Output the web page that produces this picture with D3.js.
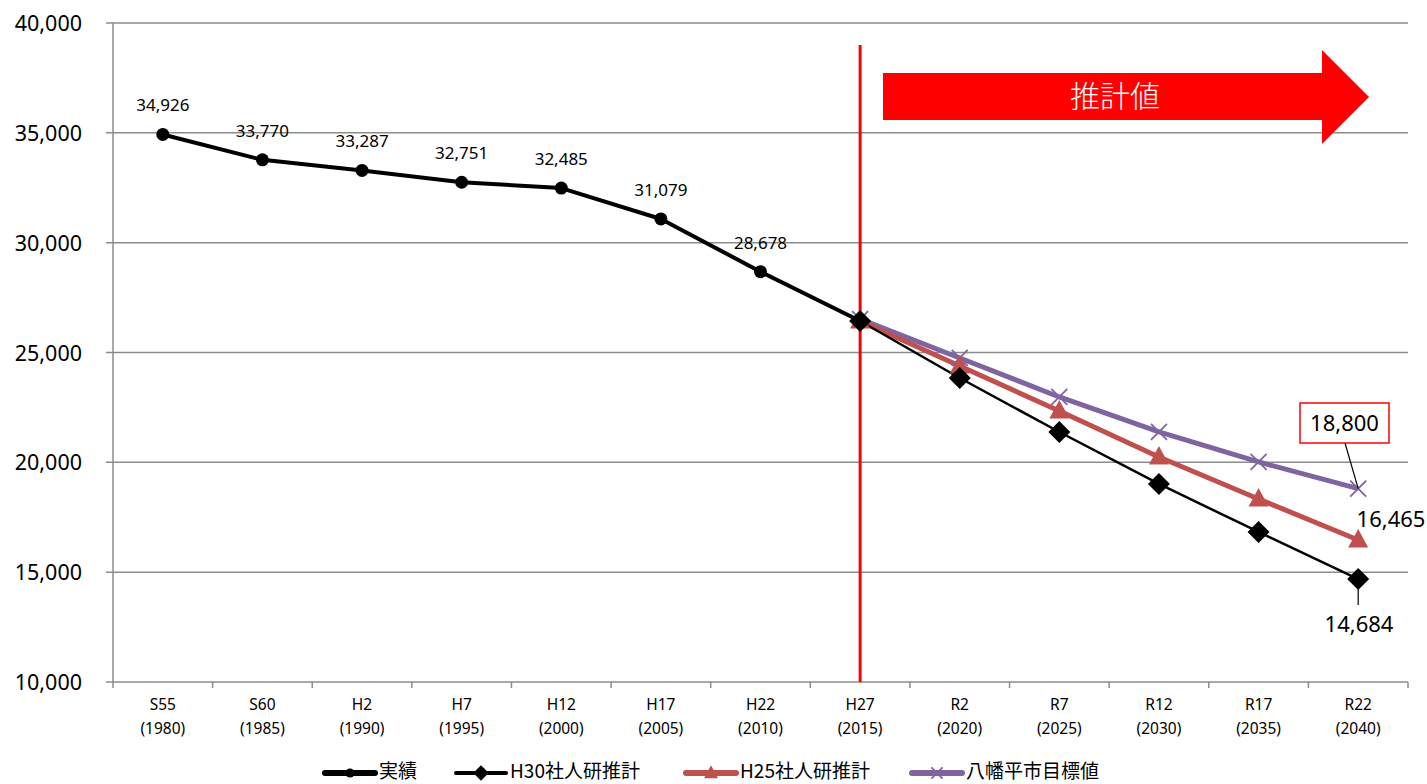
<!DOCTYPE html>
<html><head><meta charset="utf-8">
<script src="https://cdn.jsdelivr.net/npm/d3@7"></script>
<style>body{margin:0;background:#fff}svg{display:block}text{font-family:"Noto Sans","Noto Sans CJK JP",sans-serif}</style>
</head><body><svg id="c" width="1427" height="784"></svg>
<script>
const categories = ["S55","S60","H2","H7","H12","H17","H22","H27","R2","R7","R12","R17","R22"];
const years = ["(1980)","(1985)","(1990)","(1995)","(2000)","(2005)","(2010)","(2015)","(2020)","(2025)","(2030)","(2035)","(2040)"];
const actual = [34926,33770,33287,32751,32485,31079,28678,26434,null,null,null,null,null];
const h30 = [null,null,null,null,null,null,null,26434,23840,21382,19015,16830,14684];
const h25 = [null,null,null,null,null,null,null,26434,24386,22338,20244,18332,16465];
const target = [null,null,null,null,null,null,null,26520,24751,22976,21382,20017,18800];
const yTicks = [10000,15000,20000,25000,30000,35000,40000];
const seriesNames = ["実績","H30社人研推計","H25社人研推計","八幡平市目標値"];

const svg = d3.select("#c");
const L=113,R=1408,T=23,B=682;
const x = d3.scaleBand().domain(categories).range([L,R]);
const xc = c => x(c)+x.bandwidth()/2;
const y = d3.scaleLinear().domain([10000,40000]).range([B,T]);
const fmt = d3.format(",");

svg.append("g").selectAll("line").data(yTicks).join("line")
  .attr("x1",L-7).attr("x2",R).attr("y1",d=>y(d)).attr("y2",d=>y(d))
  .attr("stroke","#8c8c8c").attr("stroke-width",1.5);
svg.append("line").attr("x1",L).attr("x2",L).attr("y1",T).attr("y2",B).attr("stroke","#8c8c8c").attr("stroke-width",1.5);
svg.append("g").selectAll("text").data(yTicks).join("text")
  .attr("x",82).attr("y",d=>y(d)+8).attr("text-anchor","end")
  .attr("font-size",21.5).attr("fill","#000").text(d=>fmt(d));
const edges = categories.map(c=>x(c)).concat([R]);
svg.append("g").selectAll("line").data(edges).join("line")
  .attr("x1",d=>d).attr("x2",d=>d).attr("y1",B).attr("y2",B+6)
  .attr("stroke","#8c8c8c").attr("stroke-width",1.5);
const xl = svg.append("g");
xl.selectAll("text.a").data(categories).join("text").attr("class","a")
  .attr("x",d=>xc(d)).attr("y",710).attr("text-anchor","middle").attr("font-size",15.5).text(d=>d);
xl.selectAll("text.b").data(years).join("text").attr("class","b")
  .attr("x",(d,i)=>xc(categories[i])).attr("y",734).attr("text-anchor","middle").attr("font-size",15.5).text(d=>d);

svg.append("line").attr("x1",xc("H27")).attr("x2",xc("H27")).attr("y1",45).attr("y2",B)
  .attr("stroke","#ff0000").attr("stroke-width",3);

const ax0=883, ax1=1322, ax2=1369;
svg.append("path").attr("d",`M${ax0},73 L${ax1},73 L${ax1},50 L${ax2},97 L${ax1},144 L${ax1},120 L${ax0},120 Z`).attr("fill","#ff0000");
svg.append("text").attr("x",1115).attr("y",107).attr("text-anchor","middle").attr("font-size",30)
  .attr("fill","#fff").style("font-family","'Noto Sans CJK JP'").style("font-weight",300).text("推計値");

const line = d3.line().x(d=>xc(d[0])).y(d=>y(d[1]));
const pts = arr => categories.map((c,i)=>[c,arr[i]]).filter(d=>d[1]!=null);
const configs = [
  {data:target,color:"#8064A2",w:5,m:"x"},
  {data:h25,color:"#C0504D",w:5,m:"tri"},
  {data:h30,color:"#000",w:2.5,m:"dia"},
  {data:actual,color:"#000",w:4,m:"circ"}
];
function marker(g,type,color,cx,cy,scale=1){
  if(type==="circ") g.append("circle").attr("cx",cx).attr("cy",cy).attr("r",6.5*scale).attr("fill",color);
  if(type==="dia"){const s=11*scale;g.append("path").attr("d",`M${cx},${cy-s}L${cx+s},${cy}L${cx},${cy+s}L${cx-s},${cy}Z`).attr("fill",color);}
  if(type==="tri"){const s=10*scale;g.append("path").attr("d",`M${cx},${cy-s*1.1}L${cx+s},${cy+s*0.75}L${cx-s},${cy+s*0.75}Z`).attr("fill",color);}
  if(type==="x"){const s=8*scale;g.append("path").attr("d",`M${cx-s},${cy-s}L${cx+s},${cy+s}M${cx-s},${cy+s}L${cx+s},${cy-s}`).attr("stroke",color).attr("stroke-width",1.8);}
}
configs.forEach(cf=>{
  svg.append("path").datum(pts(cf.data)).attr("d",line).attr("fill","none").attr("stroke",cf.color).attr("stroke-width",cf.w).attr("stroke-linejoin","round");
});
configs.forEach(cf=>{
  const g=svg.append("g");
  pts(cf.data).forEach(d=>marker(g,cf.m,cf.color,xc(d[0]),y(d[1])));
});

svg.append("g").selectAll("text").data(pts(actual).filter(d=>d[0]!=="H27")).join("text")
  .attr("x",d=>xc(d[0])).attr("y",d=>y(d[1])-23).attr("text-anchor","middle").attr("font-size",17).text(d=>fmt(d[1]));

const tx=xc("R22"), ty=y(target[12]);
svg.append("line").attr("x1",1345).attr("y1",443).attr("x2",tx).attr("y2",ty).attr("stroke","#000").attr("stroke-width",1.2);
svg.append("rect").attr("x",1300).attr("y",403).attr("width",89).attr("height",40).attr("fill","#fff").attr("stroke","#ff0000").attr("stroke-width",1.5);
svg.append("text").attr("x",1344.5).attr("y",431).attr("text-anchor","middle").attr("font-size",22).text(fmt(target[12]));
svg.append("text").attr("x",1391).attr("y",527).attr("text-anchor","middle").attr("font-size",22).text(fmt(h25[12]));
svg.append("line").attr("x1",tx).attr("x2",tx).attr("y1",y(h30[12])+10).attr("y2",605).attr("stroke","#000").attr("stroke-width",1.2);
svg.append("text").attr("x",1359).attr("y",632).attr("text-anchor","middle").attr("font-size",22).text(fmt(h30[12]));

const leg=[{x:325,c:"#000",w:6,m:"circ"},{x:456,c:"#000",w:4,m:"dia"},{x:686,c:"#C0504D",w:6,m:"tri"},{x:912,c:"#8064A2",w:6,m:"x"}];
const lg=svg.append("g");
leg.forEach((l,i)=>{
  lg.append("line").attr("x1",l.x).attr("x2",l.x+50).attr("y1",773).attr("y2",773).attr("stroke",l.c).attr("stroke-width",l.w).attr("stroke-linecap","round");
  marker(lg,l.m,l.c,l.x+25,773,0.7);
  lg.append("text").attr("x",l.x+54).attr("y",778).attr("font-size",19).style("font-family","'Noto Sans CJK JP'").text(seriesNames[i]);
});
</script></body></html>
